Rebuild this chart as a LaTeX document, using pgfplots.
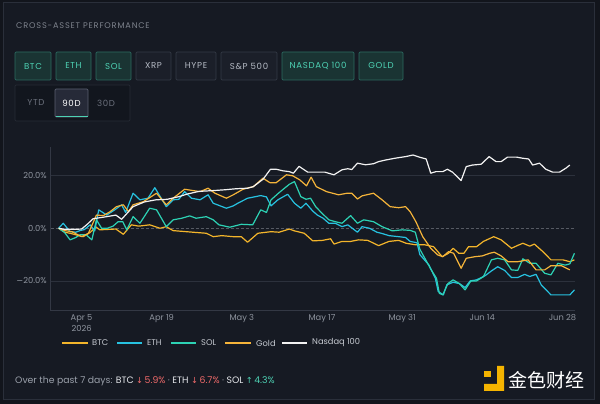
\documentclass[border=0pt]{standalone}
\usepackage{pgfplots}
\pgfplotsset{compat=1.18}
\usepackage{fontspec}
\setmainfont{Poppins}
\newfontfamily\symfont{DejaVu Sans}
\newfontfamily\cjk{Noto Sans CJK SC}
\definecolor{bg}{HTML}{161A23}
\definecolor{outerbg}{HTML}{12151C}
\definecolor{panelborder}{HTML}{2A2F3A}
\definecolor{titlec}{HTML}{7E838D}
\definecolor{actfill}{HTML}{1A3433}
\definecolor{actborder}{HTML}{2B6A60}
\definecolor{acttext}{HTML}{4ED2B4}
\definecolor{inafill}{HTML}{1B1F29}
\definecolor{inaborder}{HTML}{343A46}
\definecolor{inatext}{HTML}{B5BAC4}
\definecolor{rowfill}{HTML}{12161E}
\definecolor{rowborder}{HTML}{262B35}
\definecolor{selfill}{HTML}{262A38}
\definecolor{selborder}{HTML}{5A5F70}
\definecolor{dimtext}{HTML}{6B707C}
\definecolor{btcc}{HTML}{F3B52B}
\definecolor{goldc}{HTML}{F5B43A}
\definecolor{ethc}{HTML}{27C2E0}
\definecolor{solc}{HTML}{2DD2B4}
\definecolor{nasc}{HTML}{F2F2F2}
\definecolor{gridc}{HTML}{2C313C}
\definecolor{axisc}{HTML}{333844}
\definecolor{tickc}{HTML}{8E949E}
\definecolor{legc}{HTML}{C5C9D0}
\definecolor{redc}{HTML}{F06A6A}
\definecolor{greyt}{HTML}{9AA0AA}
\definecolor{whitet}{HTML}{E6E8EC}
\definecolor{logoy}{HTML}{F5B400}
\begin{document}
\begin{tikzpicture}[x=1pt,y=1pt]
\useasboundingbox (0,0) rectangle (600,404);
\fill[outerbg] (0,0) rectangle (600,404);
\draw[panelborder, fill=bg, line width=0.8pt] (3.5,5) rectangle (594,402);
% title
\node[anchor=base west, inner sep=0, text=titlec, font=\fontsize{8.2}{9}\selectfont\addfontfeatures{LetterSpace=10}] at (16,375) {CROSS-ASSET PERFORMANCE};
% buttons
\tikzset{btn/.style={rounded corners=1.2pt, line width=0.7pt}}
\newcommand{\btnfont}{\fontsize{8.6}{9}\selectfont\addfontfeatures{LetterSpace=8}}
\newcommand{\actbtn}[3]{\draw[btn, fill=actfill, draw=actborder] (#1,352) rectangle (#2,324);
  \node[text=acttext, font=\btnfont] at ({(#1+#2)/2},338) {#3};}
\newcommand{\inabtn}[3]{\draw[btn, fill=inafill, draw=inaborder] (#1,352) rectangle (#2,324);
  \node[text=inatext, font=\btnfont] at ({(#1+#2)/2},338) {#3};}
\actbtn{15}{51}{BTC}
\actbtn{56}{91}{ETH}
\actbtn{96}{131}{SOL}
\inabtn{136}{171}{XRP}
\inabtn{176}{216}{HYPE}
\inabtn{221}{277}{S\&P 500}
\actbtn{282}{354}{NASDAQ 100}
\actbtn{359}{403}{GOLD}
% row 2
\draw[rounded corners=1.2pt, fill=rowfill, draw=rowborder, line width=0.7pt] (15,319) rectangle (130,283);
\draw[rounded corners=1.2pt, fill=selfill, draw=selborder, line width=0.7pt] (55,315) rectangle (88,287);
\draw[acttext, line width=1pt] (55.5,287.5) -- (87.5,287.5);
\node[text=dimtext, font=\btnfont] at (36,301) {YTD};
\node[text=white, font=\btnfont] at (71.5,301) {90D};
\node[text=dimtext, font=\btnfont] at (106,301) {30D};
\begin{axis}[
  at={(50.7pt,93.3pt)}, anchor=south west, scale only axis,
  width=524.3pt, height=163.7pt,
  xmin=-1.39, xmax=90.2, ymin=-31.3, ymax=30.85,
  axis x line*=bottom, axis y line*=left,
  axis line style={draw=axisc, line width=0.8pt},
  major tick length=0pt, tick style={draw=none},
  ytick={-20,0,20},
  yticklabels={{\symfont−}20.0\%,0.0\%,20.0\%},
  xtick={4,18,32,46,60,74,88},
  xticklabels={{Apr 5\\2026},Apr 19,May 3,May 17,May 31,Jun 14,Jun 28},
  xticklabel style={align=center, text=tickc, font=\fontsize{8.3}{11}\selectfont, yshift=-0.5pt},
  yticklabel style={text=tickc, font=\fontsize{8.3}{9}\selectfont, xshift=-0.5pt},
  every axis plot/.append style={line width=1.2pt, line join=round, no markers},
]
\draw[gridc, line width=0.6pt] (axis cs:-1.39,20) -- (axis cs:90.2,20);
\draw[gridc, line width=0.6pt] (axis cs:-1.39,-20) -- (axis cs:90.2,-20);
\draw[gridc!80!white, line width=0.6pt, dash pattern=on 3pt off 2pt] (axis cs:-1.39,0) -- (axis cs:90.2,0);
% BTC
\addplot[btcc] coordinates {(0,0) (1,-1.5) (2,-1.9) (3,-2.5) (4.3,-3.2) (5.5,-1.6) (6.5,0.5) (7.2,-0.6) (9,-0.4) (10,-0.3) (11.3,-2.3) (12.7,1.3) (14,0.8) (15.9,1.3) (17.7,0) (18.8,0.6) (20,-0.9) (22.3,-1.3) (24,-1.6) (25.8,-1.9) (27,-3.2) (28.5,-2.8) (30.5,-3.2) (31.9,-3.2) (33,-5.3) (34.8,-1.9) (37.1,-1.3) (38.5,-1.5) (40.3,-0.3) (41.2,-1) (42.9,-1.9) (44.4,-4.8) (46.1,-4.6) (47.5,-4) (48.1,-6) (49.5,-5) (51,-5) (52.4,-4.4) (54,-4.6) (55.9,-6.6) (57.7,-5) (59.4,-4.6) (60.7,-5.7) (62.4,-6.3) (64,-6.3) (65.5,-7) (67,-10.8) (68.1,-9.5) (68.9,-7.6) (69.9,-9.5) (70.8,-9.5) (71.6,-7) (73,-7) (74.2,-5) (76,-3.2) (77.3,-4.4) (79.1,-7.6) (80.2,-6.5) (81.1,-5.7) (82.3,-6.8) (83.1,-6) (84.6,-8.9) (86,-12) (88.1,-12) (89.3,-12.7) (90.1,-12)};
% ETH
\addplot[ethc] coordinates {(0,0) (0.8,1.9) (2,-1.3) (3,-1.5) (3.7,-0.9) (4.5,-0.5) (5.5,1.3) (6.3,-1) (7,7) (8.4,5) (9.8,7) (11,8.9) (11.7,6) (13,13.3) (14.2,10.8) (15.6,11.4) (16.8,15.4) (18.8,8.2) (20,10.8) (21,11) (22,13.9) (23.2,11.4) (24.7,10.8) (26.1,12.7) (27,9.5) (29.3,7.6) (30.5,8.5) (31.3,9.5) (33,11.4) (35.3,12.4) (36.3,11.9) (37.1,8.5) (38.3,10.8) (40,12.9) (41.2,9.5) (42.3,7.6) (43.2,9.5) (44.4,6.5) (45.2,5) (46.2,3.8) (47.2,1.9) (48.3,1.9) (49.5,0.6) (50.5,1.3) (52.2,-1.5) (53,0.6) (54.3,0) (55.6,-1.5) (56.5,-2) (57.7,-2.8) (59.4,-3.2) (60.6,-3.5) (61.4,-5) (62.6,-5.5) (63.1,-10) (64.7,-14) (65.8,-19) (66.3,-24) (67.2,-25.3) (67.8,-21.5) (68.9,-20.5) (70,-21) (71,-22.5) (71.9,-20) (73,-19.6) (74.5,-18) (75.6,-16.2) (76.7,-14.6) (77.9,-16) (79.1,-18.7) (80.2,-18.7) (81.4,-17.5) (82.3,-18.3) (83.4,-17.5) (84.3,-21.5) (86,-25.3) (87.8,-25.3) (89.3,-25.3) (90.1,-23.4)};
% SOL
\addplot[solc] coordinates {(0,0) (1,-1.5) (2,-4.4) (3,-3.5) (3.7,-2.5) (4.8,-2.5) (5.8,-4.4) (6.6,3.2) (7.5,0) (8.5,0) (9.5,0.8) (10.4,2.5) (11.2,2.5) (11.9,-0.6) (13,4.4) (14.2,1.9) (15.9,7.6) (17.1,7) (18.8,0.6) (20,3.2) (21.5,3.8) (22.9,4.7) (24,3.8) (25.8,4.4) (27,3.2) (28,1.3) (29.9,0.4) (31.9,1.5) (33.9,1.3) (35.3,7) (36.3,6) (37.1,10.8) (38.5,13.5) (40.3,16.7) (41.2,17.7) (42.3,12) (43.2,11) (44,11.4) (44.9,8.2) (46,5.7) (47.2,3.2) (48.3,2.5) (49.5,1.9) (51,4.8) (52.2,1.9) (53.3,3.2) (55,2.5) (56.5,0.6) (58.3,-1) (60,-0.6) (61.4,-0.8) (62.3,-1.5) (63.1,-8) (64.3,-12.7) (65,-15.5) (66,-19) (66.5,-24.7) (67.1,-25.3) (68,-21) (68.9,-19.6) (70,-21) (71,-23.4) (72,-20) (73,-20) (74.2,-18.4) (75.6,-12) (76.7,-11.4) (77.9,-12) (79.1,-15.8) (80.2,-16) (81.1,-11.6) (82.3,-13.3) (83.4,-13.3) (84.9,-17.1) (86,-17.7) (87.2,-13.3) (88.5,-14) (89.3,-13.5) (90.1,-9.5)};
% Gold
\addplot[goldc] coordinates {(0,0) (1.1,-0.9) (2.3,-1.3) (4,-3.2) (5.2,-1.9) (6.6,5) (7.8,4.8) (9,6.3) (10.1,8.2) (11.3,8.9) (12.2,6.3) (13,8.9) (14.8,10.1) (17.1,13.3) (18.8,8.9) (20,11.4) (22,14.8) (23.5,14.3) (24.7,13.9) (26.1,15.2) (27.3,13.3) (29.3,11.4) (30.5,12.7) (32.2,14.8) (34,15.8) (35.7,19) (36.9,17.3) (38,17.3) (39.8,20.3) (40.9,19.9) (42.1,18.4) (43.3,16.1) (44.1,19.4) (45,15.8) (46.8,13.9) (48.9,12.7) (50.4,13.3) (51.2,13.3) (52.2,11.1) (53,12.3) (55,13.3) (56.5,10.8) (57.9,8.2) (59.4,7.8) (60.6,8.2) (61.4,6.3) (62.4,2.5) (63.6,-3.2) (65,-7.6) (66.2,-10.1) (67.1,-10.8) (68.1,-8.9) (69,-9.5) (70.3,-15.2) (71.2,-11.4) (72.7,-10.8) (74,-10.5) (75.3,-9.5) (76.1,-9.1) (77.3,-10.5) (78.5,-12.7) (80.2,-12.7) (82,-12) (83.4,-15.8) (84.9,-15.8) (86,-14.2) (87.8,-14.2) (89.3,-15.8)};
% Nasdaq 100
\addplot[nasc] coordinates {(0,0) (1,-0.4) (2,-0.4) (3,-0.4) (4,-0.3) (5,1.5) (6,3.6) (7.8,4.2) (10,5.0) (11,3.4) (13,8.2) (15,10) (17,10.8) (19,11) (21,12) (22.5,13) (24.5,14) (27,14.3) (29,14.6) (31,15) (33,15.2) (34,15.8) (35.7,18.6) (37,22.4) (38,22.4) (39.2,21.8) (40.3,21.5) (41,20.9) (42,23.5) (43.5,21.3) (45,21.3) (46.5,21.3) (48.1,20.3) (49.5,22.2) (50.5,22.6) (51.2,22.3) (52.2,24.7) (53.6,24.1) (55,24.5) (55.9,25.3) (57.1,25.9) (58.8,26.6) (60.6,27.2) (61.9,27.8) (63,27) (64.2,26.3) (65,20.9) (65.9,21.5) (67.1,21.5) (67.9,22.4) (68.8,21.3) (70.3,18.1) (71.2,23.4) (72.3,24) (73.8,24.3) (75.2,27.2) (76.4,25.3) (77.3,25.3) (78.4,27) (80,27) (81,26.6) (82.1,26.3) (82.8,24) (84,24.7) (85.1,22.4) (86.3,21.3) (87.5,21.3) (88.6,22.8) (89.3,24)};
\end{axis}
% legend
\tikzset{legt/.style={anchor=west, inner sep=0, text=legc, font=\fontsize{8.3}{9}\selectfont}}
\draw[btcc, line width=1.4pt] (62,61) -- (88,61); \node[legt] at (92,61) {BTC};
\draw[ethc, line width=1.4pt] (117,61) -- (142,61); \node[legt] at (147,61) {ETH};
\draw[solc, line width=1.4pt] (171,61) -- (196,61); \node[legt] at (201,61) {SOL};
\draw[goldc, line width=1.4pt] (225,61) -- (251,61); \node[legt] at (256,61) {Gold};
\draw[nasc, line width=1.4pt] (282,61) -- (307,61); \node[legt] at (312,61) {Nasdaq 100};
% bottom summary
\node[anchor=west, inner sep=0, font=\fontsize{9.3}{10}\selectfont] at (15,23) {\textcolor{greyt}{Over the past 7 days:} \textcolor{whitet}{BTC} \textcolor{redc}{{\symfont\fontsize{8.3}{9}\selectfont↓}\,5.9\%} \textcolor{greyt}{·} \textcolor{whitet}{ETH} \textcolor{redc}{{\symfont\fontsize{8.3}{9}\selectfont↓}\,6.7\%} \textcolor{greyt}{·} \textcolor{whitet}{SOL} \textcolor{acttext}{{\symfont\fontsize{8.3}{9}\selectfont↑}\,4.3\%}};
% watermark
\fill[logoy] (484,27) rectangle (491,33);
\fill[logoy] (497,38) -- (504,38) -- (504,13) -- (484,13) -- (484,20) -- (497,20) -- cycle;
\node[anchor=west, inner sep=0, text=white, font=\cjk\fontsize{19}{20}\selectfont] at (508,24) {金色财经};
\end{tikzpicture}
\end{document}
